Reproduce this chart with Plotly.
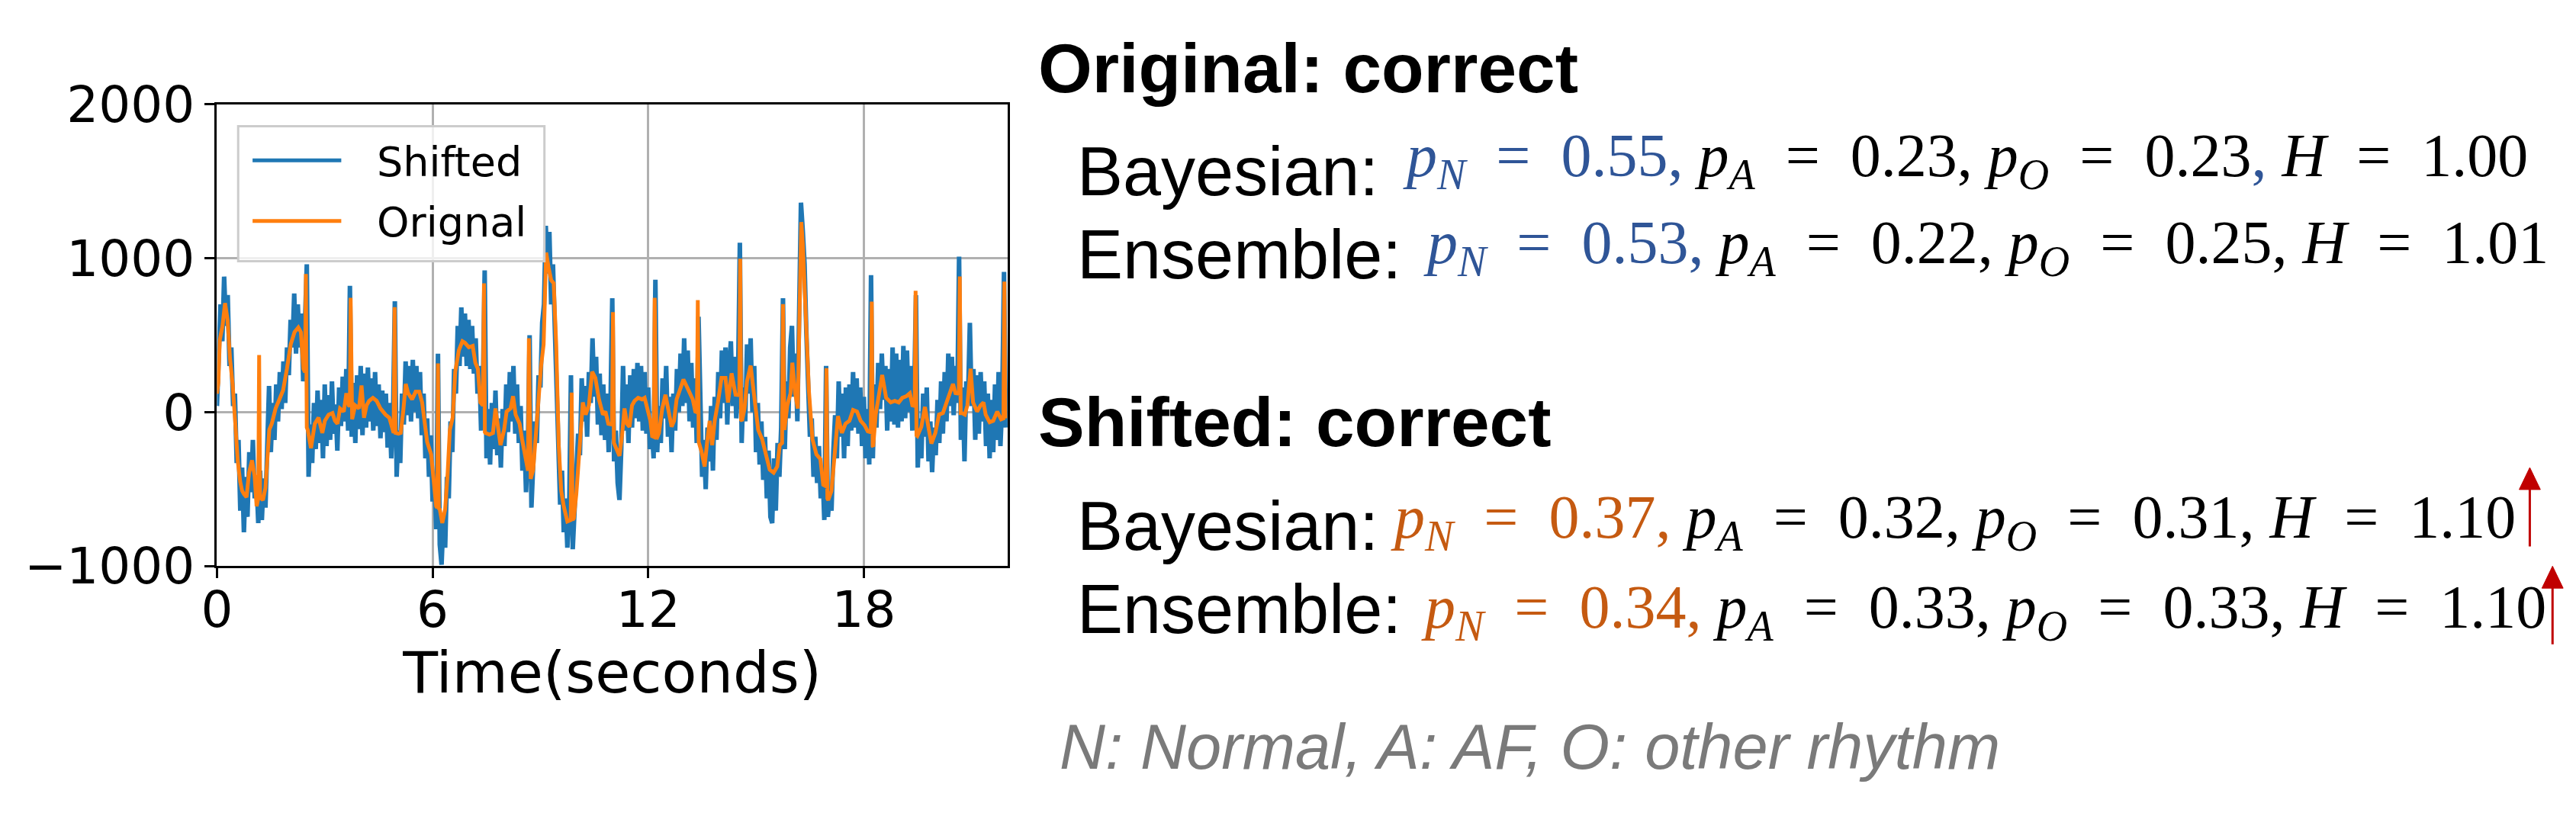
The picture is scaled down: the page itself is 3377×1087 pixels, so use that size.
import plotly.graph_objects as go

W, H = 3377, 1087

# the page comes out slightly offset / squeezed, so target pixels are mapped through this
X_OFF, Y_OFF, Y_SCALE = 24, 43, 0.934


def px(x):
    return (x - X_OFF) / W


def py(y):
    return 1 - (y - Y_OFF) / Y_SCALE / H


# ---- data ----
# shifted ECG, one value every 0.05 s starting at t = 0
shifted_dt = 0.05
shifted = [
    40, 420, 700, 460, 880, 560, 760, 300, 420, 40, 120, -330, -180, -640, -360, -780, -420, -680, -260, -520,
    -180, -560, -440, -720, -380, -700, -430, -620, -150, 170, -260, 60, -180, 180, -60, 260, 20, 330, 60, 420,
    240, 600, 420, 770, 380, 700, 420, 640, 200, 500, 960, -420, -80, -330, 60, -240, 140, -200, 80, -300,
    180, -220, 110, -180, 200, -140, 50, -250, 160, -90, 230, -60, 280, -120, 820, -160, 190, -200, 240, -110,
    300, -150, 250, -100, 290, -60, 220, -120, 260, -90, 180, -170, 140, -130, 120, -230, 60, -300, -20, 720,
    -420, -120, -330, 120, -80, 330, -20, 300, -60, 340, 0, 300, -40, 260, -150, 120, -300, -40, -420, -150,
    -580, -400, -760, 380, -860, -990, -700, -880, -420, -560, -60, -260, 280, 120, 560, 300, 680, 360, 640, 300,
    600, 280, 560, 250, 480, 120, 300, -120, 160, 920, -300, 20, -340, 60, -240, 140, -280, -40, -360, 20,
    -220, 180, -130, 260, -60, 300, -140, 180, -200, 40, -380, -120, -520, -250, 500, -620, -380, -60, -200, 240,
    160, 580, 700, 1210, 900, 1170, 700, 960, 560, 220, -160, -600, -380, -780, -560, -880, -640, 240, -890, -580,
    -400, -140, -280, 220, -60, 170, -160, 260, 60, 480, 100, 360, -80, 250, -150, 180, -180, 120, -260, 40,
    740, -320, -120, -460, -570, -240, 300, -120, 180, -200, 240, -100, 280, -40, 320, -60, 300, -120, 260, -140,
    160, -240, -100, -300, 860, -260, 40, -200, 220, -40, 300, -160, 100, -260, 120, -120, 280, 0, 380, 40,
    480, 60, 400, -60, 320, -100, 220, -200, 620, -80, -420, -180, -500, -100, -320, 40, -380, 100, -180, 260,
    -40, 400, 60, 420, -80, 300, 460, 40, 360, -40, 200, 1100, -200, 160, -60, 440, 120, 480, 0, 300,
    -260, 60, -340, -60, -440, -160, -560, -250, -680, -720, -300, -640, -200, -420, -100, 740, -240, 200, -40, 420,
    560, 100, 380, -60, 900, 1360, 1180, 960, 520, 200, -160, -40, -420, -160, -460, -220, -560, -380, -700, 300,
    -680, -540, -640, -260, -20, -300, 200, -160, 120, -300, 160, -220, 180, -120, 260, -100, 220, -140, 160, -220,
    100, -300, 20, -340, 890, -300, 180, -100, 320, 20, 380, 80, 300, -120, 280, -60, 420, -80, 380, -100,
    340, -60, 430, -40, 400, 0, 300, -120, 100, 760, -360, -40, -300, 120, -160, 160, -320, -60, -390, -100,
    -280, 80, -200, 200, -140, 260, -60, 380, 40, 360, -20, 300, 60, 1010, -180, 160, -320, 200, 100, 580,
    40, 280, -180, 240, -140, 260, -60, 200, -220, 120, -300, 80, -260, 180, -180, 260, -220, 60, 910, -100,
]

# original ECG, read at the turning points
orig_t = [
    0.00, 0.04, 0.08, 0.155, 0.225, 0.295, 0.366, 0.436, 0.506, 0.577, 0.647, 0.70, 0.752, 0.823, 0.893, 0.977,
    1.048, 1.104, 1.15, 1.174, 1.20, 1.28, 1.35, 1.456, 1.526, 1.632, 1.737, 1.842, 1.948,
    2.053, 2.159, 2.264, 2.335, 2.405, 2.45, 2.475, 2.50, 2.525, 2.616, 2.722, 2.827, 2.932,
    3.003, 3.108, 3.214, 3.284, 3.354, 3.425, 3.53, 3.60, 3.671, 3.70, 3.72, 3.745, 3.762, 3.847, 3.952,
    4.023, 4.093, 4.163, 4.233, 4.339, 4.444, 4.55, 4.69, 4.796, 4.866, 4.916, 4.944, 4.97,
    5.05, 5.113, 5.183, 5.253, 5.32, 5.43, 5.53, 5.63, 5.71, 5.78, 5.85, 5.96,
    6.03, 6.10, 6.13, 6.15, 6.175, 6.20, 6.27, 6.35, 6.42, 6.48, 6.56, 6.63, 6.73, 6.83, 6.90,
    7.01, 7.117, 7.19, 7.26, 7.33, 7.40, 7.43, 7.455, 7.47, 7.58, 7.68, 7.75, 7.82, 7.89, 7.99,
    8.06, 8.17, 8.24, 8.31, 8.42, 8.49, 8.59, 8.655, 8.68, 8.705, 8.73, 8.80, 8.88, 8.94,
    9.02, 9.09, 9.16, 9.23, 9.30, 9.37, 9.44, 9.51, 9.58, 9.65, 9.75, 9.845, 9.87, 9.895, 9.93,
    10.00, 10.11, 10.18, 10.26, 10.35, 10.44, 10.53, 10.63, 10.74, 10.81, 10.89, 10.995,
    11.02, 11.045, 11.13, 11.20, 11.27, 11.34, 11.41, 11.48, 11.55, 11.62, 11.72, 11.83, 11.90, 11.99,
    12.06, 12.11, 12.155, 12.18, 12.205, 12.23, 12.30, 12.39, 12.48, 12.55, 12.65, 12.72, 12.79, 12.88, 12.98,
    13.06, 13.17, 13.24, 13.31, 13.355, 13.38, 13.405, 13.48, 13.57, 13.64, 13.71, 13.78, 13.85, 13.94,
    14.04, 14.15, 14.22, 14.32, 14.43, 14.535, 14.56, 14.585, 14.61, 14.68, 14.75, 14.85, 14.96,
    15.06, 15.17, 15.27, 15.38, 15.49, 15.59, 15.66, 15.725, 15.75, 15.775, 15.79, 15.87, 15.96,
    16.01, 16.09, 16.16, 16.20, 16.26, 16.30, 16.35, 16.40, 16.47, 16.57, 16.68, 16.79, 16.87, 16.935, 16.96, 16.985,
    17.01, 17.10, 17.21, 17.28, 17.39, 17.49, 17.60, 17.70, 17.81, 17.91,
    18.02, 18.11, 18.195, 18.22, 18.245, 18.26, 18.33, 18.44, 18.51, 18.62, 18.75, 18.86, 18.97,
    19.07, 19.18, 19.28, 19.35, 19.415, 19.44, 19.465, 19.49, 19.60, 19.70, 19.81, 19.88, 19.99,
    20.09, 20.20, 20.30, 20.41, 20.48, 20.55, 20.645, 20.67, 20.695, 20.73, 20.81, 20.88, 20.97,
    21.04, 21.15, 21.25, 21.33, 21.39, 21.50, 21.60, 21.71, 21.82, 21.885, 21.91, 21.935,
]
orig_v = [
    120, 190, 470, 560, 708, 600, 341, 183, -56, -313, -452, -510, -532, -552, -393, -313,
    -413, -611, -560, 371, -552, -571, -492, -115, -75, 24, 83, 143, 282,
    440, 520, 550, 520, 282, 260, 897, -100, -115, -234, -75, -36, -135,
    -56, -16, -6, -56, -75, 24, 4, 123, 44, 40, 742, -40, -46, 44, 24,
    173, -36, 44, 73, 93, 73, 24, -16, -36, -105, -135, 682, -135,
    -140, -135, 4, 183, 123, 83, 133, 133, 63, -75, -194, -274,
    -472, -611, -620, 317, -625, -631, -720, -631, -393, -115, -36, 262, 401, 460, 450,
    421, 430, 321, 282, 63, 44, 837, -130, -135, -145, -135, 24, -115, -214, -115,
    4, 24, 103, -16, -75, -175, -313, -380, 480, -420, -433, -373, -115, 83,
    302, 440, 1036, 937, 857, 837, 440, -214, -512, -611, -710, -700, 127, -700, -690,
    -532, -135, 63, -16, 44, 262, 222, 83, -16, 4, -75, -80,
    649, -200, -254, -284, -155, 24, -75, -95, 44, 73, 93, 83, 93, 4,
    -56, -155, -160, 742, -170, -175, -135, 24, 113, 24, -95, -56, 83, 143, 212,
    173, 123, 83, 4, 0, 728, -194, -254, -353, -194, -56, -214, -56, 63,
    222, 222, 63, 252, 113, 110, 996, -50, -56, 24, 202, 302, 63,
    -115, -175, -274, -373, -393, -353, -214, -200, 702, -110, -115, 44, 123,
    321, 123, 24, 600, 1234, 1100, 800, 470, 143, -175, -274, -304, -472, -480, 286, -560,
    -571, -512, -175, -26, -135, -75, -56, 14, 4, -56,
    -85, -125, -130, 718, -220, -224, -16, 143, 242, 93, 63, 73, 63,
    93, 103, 123, 44, 40, 788, -150, -155, -95, 34, -115, -204, -135,
    -16, -6, 63, 123, 183, 123, 120, 881, -6, -6, -16, 44, 282,
    63, 4, 44, 63, -16, -65, -56, 4, -46, -40, 847, -40,
]

x_ticks = [0, 6, 12, 18]
y_ticks = [-1000, 0, 1000, 2000]
y_ticktext = ["\u22121000", "0", "1000", "2000"]
series_names = ["Shifted", "Orignal"]
series_colors = ["#1f77b4", "#ff7f0e"]

# p_N, p_A, p_O, H
orig_bayes = [0.55, 0.23, 0.23, 1.00]
orig_ens = [0.53, 0.22, 0.25, 1.01]
shift_bayes = [0.37, 0.32, 0.31, 1.10]
shift_ens = [0.34, 0.33, 0.33, 1.10]
footnote = "N: Normal, A: AF, O: other rhythm"

BLUE_TXT = "#2F5597"
ORANGE_TXT = "#C55A11"
RED = "#C00000"


def prob_text(vals, hl, blue_comma=False):
    pn, pa, po, h = vals
    comma_col = hl if blue_comma else "#000000"
    return (f"<span style='color:{hl}'><i>p</i><sub><i>N</i></sub>  =  {pn:.2f},</span>"
            f" <i>p</i><sub><i>A</i></sub>  =  {pa:.2f},"
            f" <i>p</i><sub><i>O</i></sub>  =  {po:.2f}"
            f"<span style='color:{comma_col}'>,</span>"
            f" <i>H</i>  =  {h:.2f}")


fig = go.Figure()
fig.add_trace(go.Scatter(y=shifted, x0=0, dx=shifted_dt, mode="lines",
                         line=dict(color=series_colors[0], width=6), name=series_names[0]))
fig.add_trace(go.Scatter(x=orig_t, y=orig_v, mode="lines",
                         line=dict(color=series_colors[1], width=5), name=series_names[1]))

# hand-drawn legend (matplotlib style)
shapes = [
    dict(type="rect", xref="paper", yref="paper", x0=px(309), x1=px(713), y0=py(341), y1=py(163),
         line=dict(color="#cccccc", width=3), fillcolor="rgba(255,255,255,0.8)", layer="above"),
    dict(type="line", xref="paper", yref="paper", x0=px(328), x1=px(445), y0=py(208), y1=py(208),
         line=dict(color=series_colors[0], width=5), layer="above"),
    dict(type="line", xref="paper", yref="paper", x0=px(328), x1=px(445), y0=py(288), y1=py(288),
         line=dict(color=series_colors[1], width=5), layer="above"),
]
# red arrows
for ax_x, y_bot, y_tip in [(3332, 717, 613), (3362, 846, 743)]:
    shapes.append(dict(type="line", xref="paper", yref="paper", x0=px(ax_x), x1=px(ax_x),
                       y0=py(y_bot), y1=py(y_tip + 24), line=dict(color=RED, width=3)))
    shapes.append(dict(type="path", xref="paper", yref="paper",
                       path=f"M {px(ax_x)} {py(y_tip)} L {px(ax_x - 14)} {py(y_tip + 29)} "
                            f"L {px(ax_x + 14)} {py(y_tip + 29)} Z",
                       fillcolor=RED, line=dict(color=RED, width=1)))

ann = []
for name, yc in zip(series_names, [210, 290]):
    ann.append(dict(text=name, x=px(490), y=py(yc), xanchor="left",
                    font=dict(family="DejaVu Sans", size=54, color="black")))

ann.append(dict(text="<b>Original: correct</b>", x=px(1362), y=py(87), xanchor="left",
                font=dict(family="Liberation Sans", size=91, color="black")))
ann.append(dict(text="<b>Shifted: correct</b>", x=px(1362), y=py(553), xanchor="left",
                font=dict(family="Liberation Sans", size=91, color="black")))

# (label, label centre y, values, colour, math left x, math centre y)
rows = [
    ("Bayesian:", 223, orig_bayes, BLUE_TXT, True, 1843, 208),
    ("Ensemble:", 333, orig_ens, BLUE_TXT, False, 1870, 322),
    ("Bayesian:", 690, shift_bayes, ORANGE_TXT, False, 1827, 684),
    ("Ensemble:", 800, shift_ens, ORANGE_TXT, False, 1867, 803),
]
for label, ly, vals, col, bc, mx, my in rows:
    ann.append(dict(text=label, x=px(1414), y=py(ly), xanchor="left",
                    font=dict(family="Liberation Sans", size=90, color="black")))
    ann.append(dict(text=prob_text(vals, col, bc), x=px(mx), y=py(my), xanchor="left",
                    font=dict(family="Liberation Serif", size=80, color="black")))
ann.append(dict(text=f"<i>{footnote}</i>", x=px(1390), y=py(981), xanchor="left",
                font=dict(family="Liberation Sans", size=83, color="#7a7a7a")))
for a in ann:
    a.update(xref="paper", yref="paper", showarrow=False, yanchor="middle")

fig.update_layout(
    width=W, height=H,
    margin=dict(l=0, r=0, t=0, b=0),
    paper_bgcolor="white", plot_bgcolor="white",
    showlegend=False,
    shapes=shapes, annotations=ann,
    xaxis=dict(domain=[px(281), px(1324)], range=[0, 22], tickvals=x_ticks,
               showline=True, linecolor="black", linewidth=3, mirror=True,
               ticks="outside", ticklen=13, tickwidth=3, tickcolor="black", ticklabelstandoff=-16,
               tickfont=dict(family="DejaVu Sans", size=66, color="black"),
               showgrid=True, gridcolor="#b0b0b0", gridwidth=3, zeroline=False,
               title=dict(text="Time(seconds)", standoff=12,
                          font=dict(family="DejaVu Sans", size=75, color="black"))),
    yaxis=dict(domain=[py(743), py(134)], range=[-1000, 2000], tickvals=y_ticks, ticktext=y_ticktext,
               showline=True, linecolor="black", linewidth=3, mirror=True,
               ticks="outside", ticklen=13, tickwidth=3, tickcolor="black",
               tickfont=dict(family="DejaVu Sans", size=66, color="black"),
               showgrid=True, gridcolor="#b0b0b0", gridwidth=3, zeroline=False),
)

fig.write_html("out.html")
